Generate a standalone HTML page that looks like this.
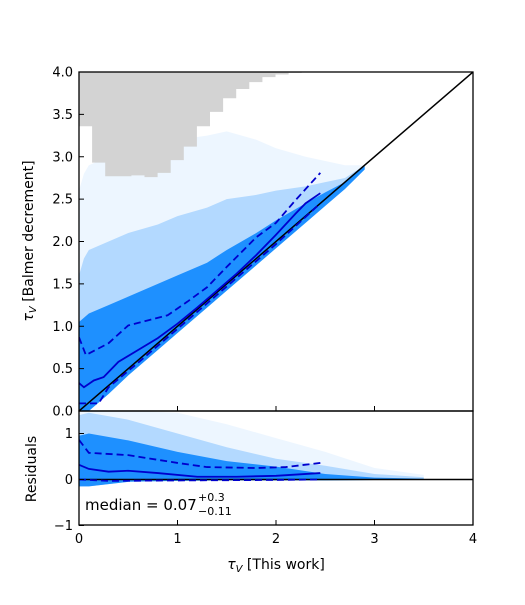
<!DOCTYPE html>
<html><head><meta charset="utf-8"><style>
body{margin:0;background:#fff;font-family:"Liberation Sans","DejaVu Sans",sans-serif}
svg text{font-family:"DejaVu Sans","Liberation Sans",sans-serif;fill:#000}
</style></head><body>
<svg id="chart" width="525" height="600" xmlns="http://www.w3.org/2000/svg">
<defs>
<clipPath id="cm"><rect x="79" y="72" width="394" height="339"/></clipPath>
<clipPath id="cr"><rect x="79" y="411" width="394" height="114"/></clipPath>
</defs>
<g id="main" clip-path="url(#cm)"></g>
<g id="resid" clip-path="url(#cr)"></g>
<g id="axes"></g>
</svg>
<script>
// data
const histHeights=[3.36,2.93,2.77,2.77,2.78,2.76,2.81,2.96,3.12,3.36,3.53,3.69,3.80,3.88,3.94,3.97,3.99];
const histBinWidth=0.133;
const cloudX=[0,0.05,0.1,0.3,0.5,0.8,1.0,1.3,1.5,1.8,2.0,2.3,2.5,2.7,2.9];
const haloUpper=[2.6,2.8,2.9,3.0,3.1,3.15,3.2,3.25,3.3,3.2,3.1,3.0,2.95,2.9,2.9];
const midUpper=[1.6,1.8,1.9,2.0,2.1,2.2,2.3,2.4,2.5,2.55,2.6,2.65,2.7,2.75,2.9];
const coreUpper=[1.05,1.1,1.15,1.25,1.35,1.5,1.6,1.75,1.9,2.1,2.25,2.45,2.58,2.7,2.9];
const coreLower=[0,0,0,0.2,0.42,0.72,0.92,1.22,1.42,1.72,1.92,2.22,2.42,2.62,2.85];
const medX=[0,0.05,0.15,0.25,0.4,0.6,0.8,1.0,1.2,1.4,1.6,1.8,2.0,2.2,2.3,2.45];
const medY=[0.33,0.28,0.36,0.40,0.58,0.72,0.86,1.03,1.22,1.42,1.62,1.84,2.08,2.33,2.45,2.57];
const upX=[0,0.07,0.3,0.5,0.7,0.9,1.1,1.3,1.5,1.8,2.0,2.2,2.45];
const upY=[0.87,0.66,0.80,1.01,1.07,1.13,1.29,1.46,1.70,2.05,2.22,2.49,2.81];
const loX=[0,0.2,0.3,0.6,1.0,1.5,2.0,2.45];
const loY=[0.09,0.09,0.28,0.57,0.97,1.47,1.97,2.45];
const rCloudX=[0,0.1,0.5,1.0,1.5,2.0,2.5,3.0,3.5];
const rHalo=[1.5,1.5,1.5,1.45,1.2,0.9,0.6,0.25,0.1];
const rMid=[1.4,1.45,1.3,1.0,0.7,0.45,0.3,0.12,0.05];
const rCore=[0.95,1.0,0.85,0.6,0.4,0.28,0.12,0.04,0.02];
const rLower=[-0.15,-0.15,-0.05,-0.03,-0.02,-0.02,-0.02,-0.01,-0.01];
const rMedX=[0,0.1,0.3,0.5,0.8,1.2,1.6,2.0,2.45];
const rMedY=[0.32,0.23,0.17,0.19,0.14,0.06,0.06,0.08,0.14];
const rUpX=[0,0.1,0.5,1.0,1.3,1.8,2.1,2.45];
const rUpY=[0.86,0.58,0.53,0.36,0.27,0.25,0.27,0.36];
const rLoX=[0,0.3,1.0,2.0,2.45];
const rLoY=[0.0,-0.03,-0.02,-0.01,0.0];
const xTicks=[0,1,2,3,4];
const yTicks=[0,0.5,1.0,1.5,2.0,2.5,3.0,3.5,4.0];
const yTickLabels=["0.0","0.5","1.0","1.5","2.0","2.5","3.0","3.5","4.0"];
const rTicks=[-1,0,1];

const X=v=>79+v*98.5, Y=v=>411-v*84.75, R=v=>479.5-v*46;
const NS="http://www.w3.org/2000/svg";
function mk(tag,parent,attrs){const e=document.createElementNS(NS,tag);for(const k in attrs)e.setAttribute(k,attrs[k]);parent.appendChild(e);return e;}
const main=document.getElementById('main'),resid=document.getElementById('resid'),axes=document.getElementById('axes');
function band(xs,top,bot,fy){let d='M'+xs.map((x,i)=>X(x)+','+fy(top[i])).join('L');d+='L'+xs.map((x,i)=>X(x)+','+fy(bot[i])).reverse().join('L')+'Z';return d;}
function line(xs,ys,fy){return 'M'+xs.map((x,i)=>X(x)+','+fy(ys[i])).join('L');}

let p=mk('path',main,{d:band(cloudX,haloUpper,coreLower,Y),fill:'#1e90ff','fill-opacity':0.08});


p=mk('path',main,{d:band(cloudX,midUpper,coreLower,Y),fill:'#1e90ff','fill-opacity':0.28});


p=mk('path',main,{d:band(cloudX,coreUpper,coreLower,Y),fill:'#1e90ff'});



// gray hist
let gd='M'+X(0)+','+Y(4);
histHeights.forEach((h,i)=>{gd+='L'+X(i*histBinWidth)+','+Y(h)+'L'+X((i+1)*histBinWidth)+','+Y(h);});
gd+='L'+X(histHeights.length*histBinWidth)+','+Y(4)+'Z';
let g=mk('path',main,{d:gd,fill:'#d3d3d3'});



p=mk('line',main,{x1:X(0),y1:Y(0),x2:X(4),y2:Y(4),stroke:'#000','stroke-width':1.5});


p=mk('path',main,{d:line(medX,medY,Y),fill:'none',stroke:'#0000cd','stroke-width':1.8});


p=mk('path',main,{d:line(upX,upY,Y),fill:'none',stroke:'#0000cd','stroke-width':1.8,'stroke-dasharray':'7,4'});


p=mk('path',main,{d:line(loX,loY,Y),fill:'none',stroke:'#0000cd','stroke-width':1.8,'stroke-dasharray':'7,4'});



// residuals
p=mk('path',resid,{d:band(rCloudX,rHalo,rLower,R),fill:'#1e90ff','fill-opacity':0.08});


p=mk('path',resid,{d:band(rCloudX,rMid,rLower,R),fill:'#1e90ff','fill-opacity':0.28});


p=mk('path',resid,{d:band(rCloudX,rCore,rLower,R),fill:'#1e90ff'});


p=mk('line',resid,{x1:X(0),y1:R(0),x2:X(4),y2:R(0),stroke:'#000','stroke-width':1.5});


p=mk('path',resid,{d:line(rMedX,rMedY,R),fill:'none',stroke:'#0000cd','stroke-width':1.8});


p=mk('path',resid,{d:line(rUpX,rUpY,R),fill:'none',stroke:'#0000cd','stroke-width':1.8,'stroke-dasharray':'7,4'});


p=mk('path',resid,{d:line(rLoX,rLoY,R),fill:'none',stroke:'#0000cd','stroke-width':1.8,'stroke-dasharray':'7,4'});



// frames
p=mk('rect',axes,{x:79,y:72,width:394,height:339,fill:'none',stroke:'#000','stroke-width':1.3});


p=mk('rect',axes,{x:79,y:411,width:394,height:114,fill:'none',stroke:'#000','stroke-width':1.3});


xTicks.forEach(v=>{
  [411,525].forEach(yb=>{const t=mk('line',axes,{x1:X(v),y1:yb,x2:X(v),y2:yb-5,stroke:'#000','stroke-width':1});
  
  });
  const l=mk('text',axes,{x:X(v),y:543,'font-size':13,'text-anchor':'middle'});l.textContent=v;
  
  
});
yTicks.forEach((v,i)=>{
  const t=mk('line',axes,{x1:79,y1:Y(v),x2:84,y2:Y(v),stroke:'#000','stroke-width':1});
  
  
  const l=mk('text',axes,{x:73,y:Y(v)+4.5,'font-size':13,'text-anchor':'end'});l.textContent=yTickLabels[i];
  
  
});
rTicks.forEach(v=>{
  const t=mk('line',axes,{x1:79,y1:R(v),x2:84,y2:R(v),stroke:'#000','stroke-width':1});
  
  
  const l=mk('text',axes,{x:73,y:R(v)+4.5,'font-size':13,'text-anchor':'end'});l.textContent=(v<0?'−1':v);
  
  
});
</script>
<svg style="position:absolute;left:0;top:0" width="525" height="600">
<text x="33" y="241" font-size="14" text-anchor="middle" transform="rotate(-90 33 241)" style="font-family:'DejaVu Sans',sans-serif"><tspan font-style="italic">τ</tspan><tspan font-size="10" font-style="italic" dy="3">V</tspan><tspan dy="-3"> [Balmer decrement]</tspan></text>
<text x="36" y="469" font-size="14" text-anchor="middle" transform="rotate(-90 36 469)" style="font-family:'DejaVu Sans',sans-serif">Residuals</text>
<text x="276" y="569" font-size="14" text-anchor="middle" style="font-family:'DejaVu Sans',sans-serif"><tspan font-style="italic">τ</tspan><tspan font-size="10" font-style="italic" dy="3">V</tspan><tspan dy="-3"> [This work]</tspan></text>
<text x="85" y="510" font-size="15" style="font-family:'DejaVu Sans',sans-serif">median = 0.07</text>
<text x="198" y="501" font-size="11" style="font-family:'DejaVu Sans',sans-serif">+0.3</text>
<text x="198" y="515" font-size="11" style="font-family:'DejaVu Sans',sans-serif">−0.11</text>
</svg>
</body></html>
